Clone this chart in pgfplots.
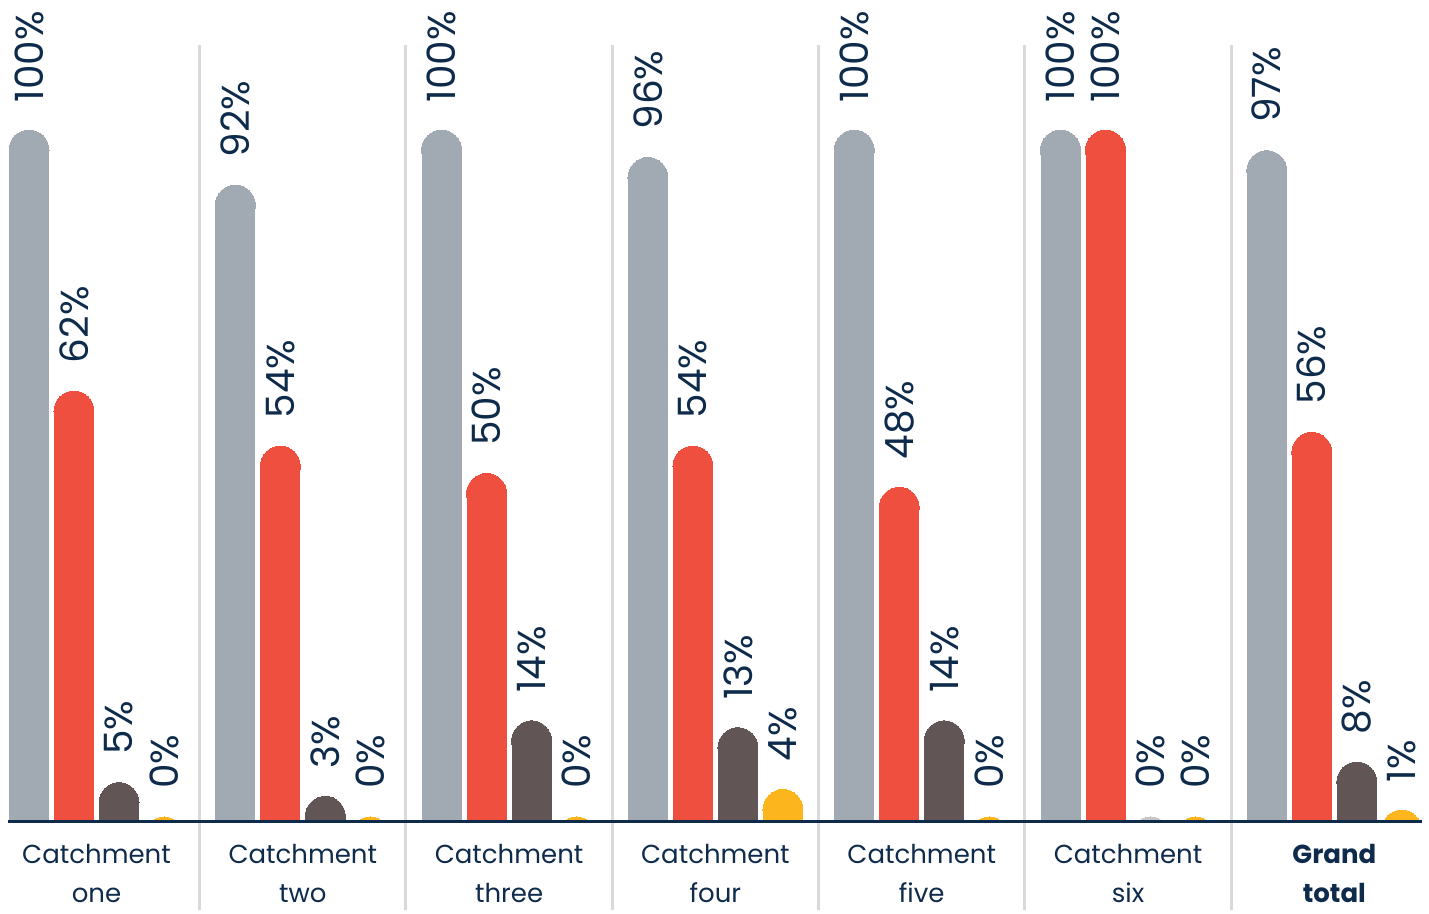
\documentclass[border=0pt]{standalone}
\usepackage{pgfplots}
\usepackage{pgfplotstable}
\pgfplotsset{compat=1.18}
\usepackage{fontspec}
\setmainfont{Poppins}

\definecolor{gbar}{HTML}{A1AAB2}
\definecolor{rbar}{HTML}{EF4F3F}
\definecolor{bbar}{HTML}{625555}
\definecolor{ybar}{HTML}{FDB51D}
\definecolor{zbar}{HTML}{C6C6C6}
\definecolor{navy}{HTML}{0E2B4B}
\definecolor{sep}{HTML}{D9D9D9}

% share of each catchment, per series
\pgfplotstableread{
x g r b yl
0 100 62 5 0
1 92 54 3 0
2 100 50 14 0
3 96 54 13 4
4 100 48 14 0
5 100 100 0 0
6 97 56 8 1
}\catch

% stems: thick ycomb lines with a round dot on top
\pgfplotsset{
  stem/.style={ycomb, draw=#1, line width=20pt,
    mark=*, mark size=10pt, mark options={fill=#1, draw=none, line width=0pt}},
}

\begin{document}
\begin{tikzpicture}
\path[use as bounding box] (0,0) rectangle (714.5pt,457pt);
\begin{axis}[
  at={(4pt,38.5pt)}, anchor=south west,
  scale only axis, width=707pt, height=418.5pt,
  xmin=-0.429, xmax=6.425,
  ymin=0, ymax=121.85,
  clip mode=individual, clip marker paths=true,
  axis x line*=bottom, axis y line=none,
  x axis line style={draw=none},
  xtick={0,...,6},
  xticklabels={{Catchment\\one},{Catchment\\two},{Catchment\\three},{Catchment\\four},{Catchment\\five},{Catchment\\six},{\bfseries Grand\\\bfseries total}},
  major tick length=0pt,
  x tick label style={font=\fontsize{13}{19.5}\selectfont, text=navy, align=center, yshift=-1.5pt, inner ysep=2pt},
  ytick=\empty,
  point meta=explicit,
  /pgf/number format/assume math mode=true,
  nodes near coords={\pgfmathprintnumber{\pgfplotspointmeta}\%},
  every node near coord/.append style={font=\fontsize{19.5}{20}\selectfont, text=navy, rotate=90, anchor=west, inner sep=0pt, xshift=24pt},
]
\addplot[stem=gbar] table[x expr=\thisrow{x}-0.3272, y=g, meta=g] {\catch};
\addplot[stem=rbar] table[x expr=\thisrow{x}-0.1091, y=r, meta=r] {\catch};
\addplot[stem=bbar] table[x expr=\thisrow{x}+0.1091, y=b, meta=b, restrict x to domain=-1:4.5] {\catch};
\addplot[stem=bbar] table[x expr=\thisrow{x}+0.1091, y=b, meta=b, restrict x to domain=5.5:7] {\catch};
\addplot[stem=zbar] table[x expr=\thisrow{x}+0.1091, y=b, meta=b, restrict x to domain=4.5:5.5] {\catch};
\addplot[stem=ybar] table[x expr=\thisrow{x}+0.3272, y=yl, meta=yl] {\catch};
% hide the lower part of the dots under the baseline
\fill[white] (axis cs:-0.429,0) rectangle (axis cs:6.425,2.2);
\foreach \i in {0,...,5} {
  \edef\tmp{\noexpand\draw[sep, line width=1.5pt] (axis cs:\i.5,-10.6) -- (axis cs:\i.5,115.3);}
  \tmp
}
\draw[navy, line width=1.5pt] (axis cs:-0.429,2.2) -- (axis cs:6.425,2.2);
\end{axis}
\end{tikzpicture}
\end{document}
